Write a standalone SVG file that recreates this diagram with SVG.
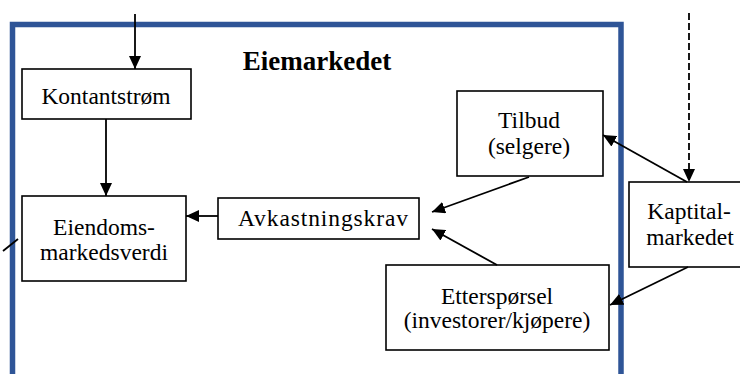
<svg xmlns="http://www.w3.org/2000/svg" width="740" height="374" viewBox="0 0 740 374">
<style>
  .box { fill: #ffffff; stroke: #000000; stroke-width: 1.6; }
  .lbl { font-family: "Liberation Serif", "Times New Roman", serif; font-size: 23.5px; fill: #000000; text-anchor: middle; }
  .title { font-family: "Liberation Serif", "Times New Roman", serif; font-size: 27px; font-weight: bold; fill: #000000; text-anchor: middle; }
  .conn { stroke: #000000; stroke-width: 1.8; fill: none; }
</style>
<defs>
  <marker id="arrow" markerUnits="userSpaceOnUse" markerWidth="14" markerHeight="12" refX="13" refY="6" orient="auto">
    <path d="M0,0 L13,6 L0,12 z" fill="#000000"/>
  </marker>
</defs>
<rect width="740" height="374" fill="#ffffff"/>
<g id="frame">
  <rect x="12.5" y="24.5" width="608.5" height="420" fill="none" stroke="#2F5597" stroke-width="5.5"/>
  <text class="title" x="317" y="70">Eiemarkedet</text>
</g>
<g id="kontantstrom">
  <rect class="box" x="22" y="69" width="169" height="50"/>
  <text class="lbl" x="106" y="104">Kontantstrøm</text>
</g>
<g id="eiendomsmarkedsverdi">
  <rect class="box" x="22" y="196" width="164" height="85"/>
  <text class="lbl" x="104" y="235">Eiendoms-</text>
  <text class="lbl" x="104" y="260">markedsverdi</text>
</g>
<g id="avkastningskrav">
  <rect class="box" x="218" y="198" width="201" height="41"/>
  <text class="lbl" x="323" y="226" textLength="170" lengthAdjust="spacing">Avkastningskrav</text>
</g>
<g id="tilbud">
  <rect class="box" x="457" y="91" width="146" height="85"/>
  <text class="lbl" x="529" y="128">Tilbud</text>
  <text class="lbl" x="529" y="154">(selgere)</text>
</g>
<g id="etterspoersel">
  <rect class="box" x="386" y="265" width="223" height="85"/>
  <text class="lbl" x="497" y="304">Etterspørsel</text>
  <text class="lbl" x="497" y="328">(investorer/kjøpere)</text>
</g>
<g id="kapitalmarkedet">
  <rect class="box" x="629" y="182" width="130" height="85"/>
  <text class="lbl" x="689" y="218.5">Kaptital-</text>
  <text class="lbl" x="690" y="245">markedet</text>
</g>
<g id="connectors">
  <line class="conn" x1="135" y1="14" x2="135" y2="69" marker-end="url(#arrow)"/>
  <line class="conn" x1="106" y1="119" x2="106" y2="196" marker-end="url(#arrow)"/>
  <line class="conn" x1="218" y1="216" x2="186" y2="216" marker-end="url(#arrow)"/>
  <line class="conn" x1="529" y1="177" x2="432" y2="212" marker-end="url(#arrow)"/>
  <line class="conn" x1="497" y1="265" x2="432" y2="229" marker-end="url(#arrow)"/>
  <line class="conn" x1="687" y1="182" x2="603" y2="135" marker-end="url(#arrow)"/>
  <line class="conn" x1="689" y1="13" x2="689" y2="182" stroke-dasharray="7 3" marker-end="url(#arrow)"/>
  <line class="conn" x1="688" y1="267" x2="610" y2="305" marker-end="url(#arrow)"/>
  <line class="conn" x1="3" y1="251" x2="18" y2="239"/>
</g>
</svg>
